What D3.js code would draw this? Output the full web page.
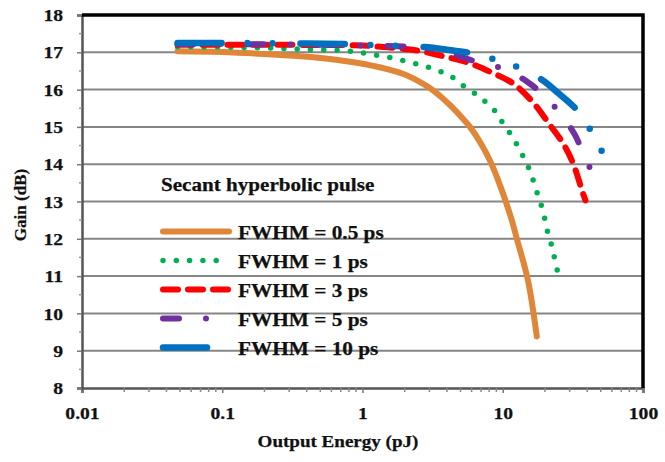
<!DOCTYPE html>
<html>
<head>
<meta charset="utf-8">
<script src="https://cdn.jsdelivr.net/npm/d3@7"></script>
<style>
  html, body { margin: 0; padding: 0; background: #fff; }
  text { font-family: "Liberation Serif", "Times New Roman", serif; font-weight: bold; fill: #111; stroke: #111; stroke-width: 0.25px; }
</style>
</head>
<body>
<svg id="chart" width="665" height="462"></svg>
<script>
// ---- data ----
const seriesNames = ["FWHM = 0.5 ps", "FWHM = 1 ps", "FWHM = 3 ps", "FWHM = 5 ps", "FWHM = 10 ps"];
const legendTitle = "Secant hyperbolic pulse";

const energy05 = [0.048, 0.1, 0.23, 0.5, 0.91, 1.5, 2.08, 3.0, 3.57, 4.3, 5.2, 5.84, 7.0, 8.1, 9.25, 11.5, 12.6, 15.1, 17.5];
const gain05   = [17.03, 17.01, 16.94, 16.85, 16.72, 16.55, 16.38, 16.05, 15.83, 15.55, 15.22, 15.0, 14.55, 14.1, 13.58, 12.55, 12.0, 10.9, 9.38];

const energy1 = [0.048, 0.1, 0.2, 0.4, 0.81, 1.19, 1.85, 2.7, 3.57, 4.3, 5.1, 6.1, 7.2, 8.5, 9.5, 10.8, 12.1, 13.4, 14.8, 16.0, 17.0, 18.2, 19.4, 20.3, 21.3, 22.7, 23.6, 24.9];
const gain1   = [17.15, 17.14, 17.12, 17.08, 17.03, 16.94, 16.8, 16.64, 16.49, 16.35, 16.13, 15.94, 15.73, 15.5, 15.23, 14.93, 14.64, 14.34, 14.02, 13.72, 13.4, 13.07, 12.73, 12.4, 12.06, 11.73, 11.4, 11.05];

const energy3 = [0.048, 0.1, 0.3, 1.0, 1.66, 2.45, 3.7, 5.5, 8.2, 11.9, 16.5, 21.7, 26.8, 31.6, 37.3, 38.9];
const gain3   = [17.2, 17.2, 17.2, 17.18, 17.12, 17.05, 16.9, 16.74, 16.47, 16.16, 15.65, 15.05, 14.57, 14.04, 13.22, 13.03];

const energy5 = [0.048, 0.1, 0.3, 1.1, 2.08, 3.5, 6.1, 10.7, 15.2, 19.7, 26.2, 32.8, 37.3, 44.6];
const gain5   = [17.22, 17.22, 17.21, 17.18, 17.15, 17.05, 16.78, 16.52, 16.19, 15.84, 15.32, 14.78, 14.3, 13.68];

const energy10 = [0.048, 0.1, 0.3, 0.8, 1.23, 2.76, 4.0, 6.0, 8.9, 13.2, 18.9, 25, 33.6, 42.5, 51.9];
const gain10   = [17.25, 17.25, 17.24, 17.22, 17.19, 17.14, 17.07, 16.97, 16.8, 16.58, 16.27, 15.9, 15.46, 14.9, 14.28];

const xTickValues = [0.01, 0.1, 1, 10, 100];
const xTickLabels = ["0.01", "0.1", "1", "10", "100"];
const yTickValues = [8, 9, 10, 11, 12, 13, 14, 15, 16, 17, 18];
const xTitle = "Output Energy (pJ)";
const yTitle = "Gain (dB)";

// ---- styles ----
const styles = [
  { color: "#DF8639", width: 6,   dash: null },
  { color: "#00B050", width: 5.5, dash: "0,13.3" },
  { color: "#FF0000", width: 6,   dash: "15,10" },
  { color: "#7030A0", width: 6,   dash: "16,27,0,27" },
  { color: "#0070C0", width: 6.5, dash: "44,26,0,25,0,28" }
];

const series = [
  { name: seriesNames[0], e: energy05, g: gain05 },
  { name: seriesNames[1], e: energy1,  g: gain1 },
  { name: seriesNames[2], e: energy3,  g: gain3 },
  { name: seriesNames[3], e: energy5,  g: gain5 },
  { name: seriesNames[4], e: energy10, g: gain10 }
].map((s, i) => ({ ...s, pts: s.e.map((v, j) => [v, s.g[j]]), style: styles[i] }));

// ---- layout ----
const L = 82, R = 643, T = 15, B = 388;
const svg = d3.select("#chart");
const x = d3.scaleLog().domain([0.01, 100]).range([L, R]);
const y = d3.scaleLinear().domain([8, 18]).range([B, T]);

function stretch(sel, k) {
  sel.each(function () {
    const w = this.getComputedTextLength();
    d3.select(this).attr("textLength", w * k).attr("lengthAdjust", "spacingAndGlyphs");
  });
}
function styleText(sel, size) {
  sel.style("font-size", size).style("font-family", "Liberation Serif").style("font-weight", "bold")
     .attr("fill", "#111").attr("stroke", "#111").attr("stroke-width", 0.25);
}

// gridlines
svg.append("g").selectAll("line").data(yTickValues.filter(v => v > 8 && v < 18)).join("line")
  .attr("x1", L).attr("x2", R).attr("y1", d => y(d)).attr("y2", d => y(d))
  .attr("stroke", "#868686").attr("stroke-width", 2);

// axes
const xAxis = d3.axisBottom(x).tickValues(xTickValues).tickFormat((d, i) => xTickLabels[i]).tickSize(5).tickPadding(14);
const gx = svg.append("g").attr("transform", `translate(0,${B})`).call(xAxis);
gx.select(".domain").attr("stroke", "#555").attr("stroke-width", 2.5);
gx.selectAll(".tick line").attr("stroke", "#777").attr("stroke-width", 1.5);
styleText(gx.selectAll("text"), "17.5px");
stretch(gx.selectAll("text"), 1.12);

// x minor ticks
const minor = [];
for (let d = 0.01; d < 100; d *= 10) for (let k = 2; k <= 9; k++) minor.push(d * k);
svg.append("g").selectAll("line").data(minor).join("line")
  .attr("x1", d => x(d)).attr("x2", d => x(d)).attr("y1", B).attr("y2", B + 4)
  .attr("stroke", "#888").attr("stroke-width", 1.5);

const yAxis = d3.axisLeft(y).tickValues(yTickValues).tickSize(5).tickPadding(14);
const gy = svg.append("g").attr("transform", `translate(${L},0)`).call(yAxis);
gy.select(".domain").attr("stroke", "#555").attr("stroke-width", 2.5);
gy.selectAll(".tick line").attr("stroke", "#777").attr("stroke-width", 1.5);
styleText(gy.selectAll("text"), "17.5px");
stretch(gy.selectAll("text"), 1.12);

// y minor ticks
svg.append("g").selectAll("line").data(d3.range(8.5, 18, 1)).join("line")
  .attr("x1", L - 3).attr("x2", L).attr("y1", d => y(d)).attr("y2", d => y(d))
  .attr("stroke", "#999").attr("stroke-width", 1.5);

// top & right border
svg.append("path").attr("d", `M${L},${T}H${R}V${B}`).attr("fill", "none").attr("stroke", "#000").attr("stroke-width", 3.5);

// series
const line = d3.line().x(d => x(d[0])).y(d => y(d[1])).curve(d3.curveCatmullRom.alpha(0.5));
svg.append("g").selectAll("path").data(series).join("path")
  .attr("d", d => line(d.pts))
  .attr("fill", "none")
  .attr("stroke", d => d.style.color)
  .attr("stroke-width", d => d.style.width)
  .attr("stroke-linecap", "round")
  .attr("stroke-linejoin", "round")
  .attr("stroke-dasharray", d => d.style.dash);

// legend
const lg = svg.append("g");
const t = lg.append("text").attr("x", 161).attr("y", 190.5).style("font-size", "18.5px").text(legendTitle);
stretch(t, 1.14);
const items = lg.selectAll("g").data(series).join("g")
  .attr("transform", (d, i) => `translate(0,${231.5 + i * 29})`);
items.append("path")
  .attr("d", (d, i) => `M163,0H${i === 4 ? 207 : 229}`)
  .attr("fill", "none")
  .attr("stroke", d => d.style.color)
  .attr("stroke-width", d => d.style.width)
  .attr("stroke-linecap", "round")
  .attr("stroke-dasharray", d => d.style.dash);
const lt = items.append("text").attr("x", 238).attr("y", 7).style("font-size", "19px").text(d => d.name);
stretch(lt, 1.12);

// axis titles
const xt = svg.append("text").attr("x", 338).attr("y", 447).attr("text-anchor", "middle").style("font-size", "17px").text(xTitle);
stretch(xt, 1.12);
svg.append("text").attr("transform", "translate(26,205) rotate(-90)").attr("text-anchor", "middle").style("font-size", "17px").text(yTitle);
</script>
</body>
</html>
